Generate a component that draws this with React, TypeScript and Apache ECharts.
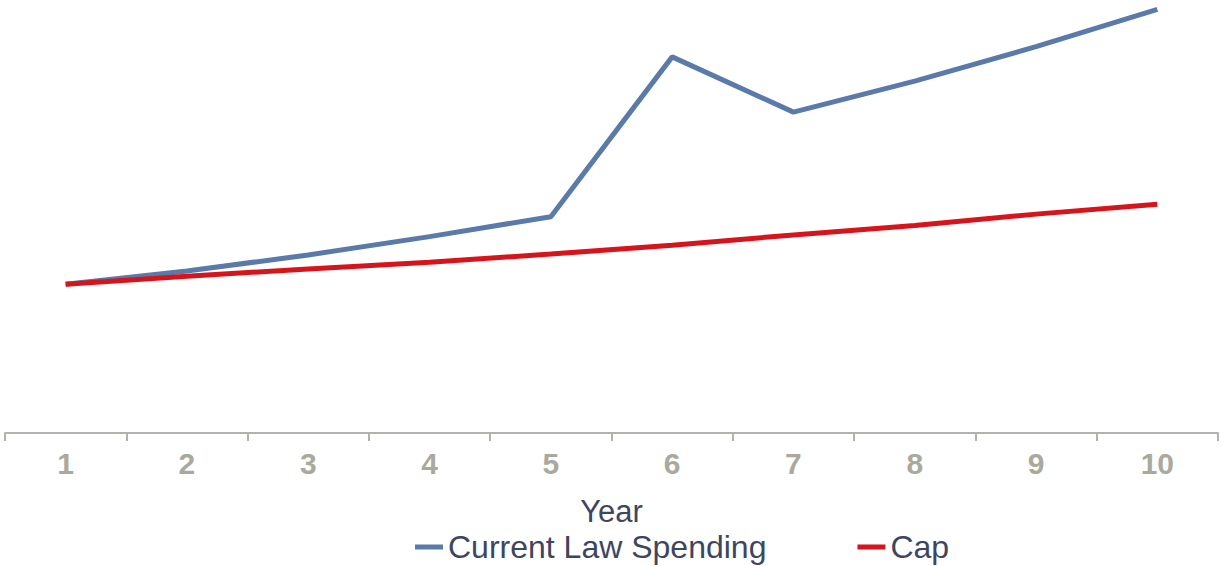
import React, { useEffect, useRef } from "react";
import * as echarts from "echarts";

const years = ["1", "2", "3", "4", "5", "6", "7", "8", "9", "10"];
const currentLawSpending = [35.0, 38.1, 41.9, 46.2, 50.9, 88.5, 75.5, 82.8, 90.9, 99.7];
const cap = [35.0, 36.9, 38.6, 40.2, 42.1, 44.2, 46.6, 48.8, 51.5, 53.8];

export default function App() {
  const ref = useRef<HTMLDivElement>(null);
  useEffect(() => {
    if (!ref.current) return;
    const chart = echarts.init(ref.current, undefined, { renderer: "svg" });
    const font = "'Liberation Sans', Arial, sans-serif";
    chart.setOption({
      animation: false,
      grid: { left: 5, right: 3, top: 8, bottom: 133, containLabel: false },
      legend: {
        left: 415,
        top: 531,
        padding: 0,
        icon: "rect",
        itemWidth: 28,
        itemHeight: 5,
        itemGap: 91,
        textStyle: { fontFamily: font, fontSize: 32, lineHeight: 32, color: "#3d4661" },
        data: ["Current Law Spending", "Cap"],
      },
      xAxis: {
        type: "category",
        data: years,
        boundaryGap: true,
        name: "Year",
        nameLocation: "middle",
        nameGap: 63,
        nameTextStyle: { fontFamily: font, fontSize: 31, color: "#3d4661", verticalAlign: "top" },
        axisLine: { show: true, lineStyle: { color: "#b3b3ad", width: 2 } },
        axisTick: { show: true, length: 8, interval: 0, lineStyle: { color: "#b3b3ad", width: 2 } },
        axisLabel: { fontFamily: font, fontSize: 30, fontWeight: "bold", color: "#a9a99d", margin: 15 },
      },
      yAxis: {
        type: "value",
        min: 0,
        max: 100,
        show: false,
        splitLine: { show: false },
      },
      series: [
        {
          name: "Current Law Spending",
          type: "line",
          data: currentLawSpending,
          showSymbol: false,
          symbol: "none",
          lineStyle: { color: "#5a7aa9", width: 5 },
          itemStyle: { color: "#5a7aa9" },
        },
        {
          name: "Cap",
          type: "line",
          data: cap,
          showSymbol: false,
          symbol: "none",
          lineStyle: { color: "#d7141c", width: 5 },
          itemStyle: { color: "#d7141c" },
        },
      ],
    });
    return () => chart.dispose();
  }, []);
  return <div ref={ref} style={{ width: 1221, height: 566, position: "absolute", left: 0, top: 0 }} />;
}
